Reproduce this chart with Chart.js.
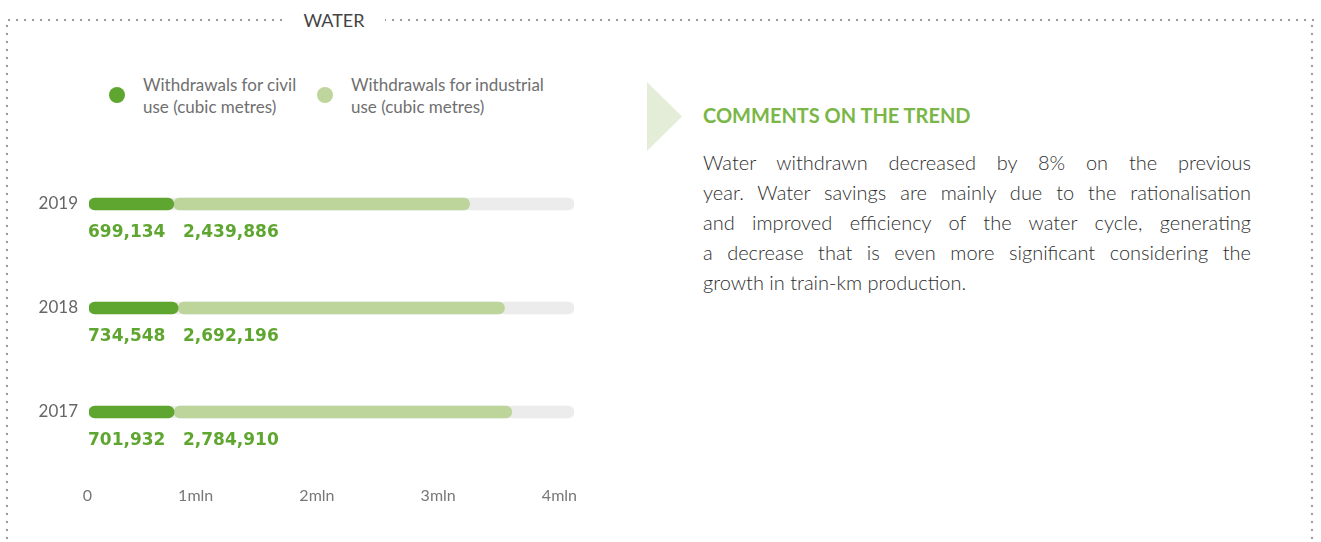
<!DOCTYPE html>
<html>
<head>
<meta charset="utf-8">
<script src="https://cdn.jsdelivr.net/npm/chart.js@4"></script>
<style>
  html, body { margin: 0; padding: 0; background: #fff; }
  body { width: 1321px; height: 542px; position: relative; overflow: hidden; font-family: Lato, "Open Sans", sans-serif; }
  .abs { position: absolute; }
  .dots-h { height: 4px; background: radial-gradient(circle at center, #9c9c9c 1px, transparent 1.6px) 0 0 / 8px 4px repeat-x; }
  .dots-v { width: 4px; background: radial-gradient(circle at center, #9c9c9c 1px, transparent 1.6px) 0 0 / 4px 8px repeat-y; }
  #title { left: 283px; top: 8px; width: 102px; text-align: center; background: #fff; font-size: 18px; color: #444; line-height: 24px; }
  .dot { width: 16px; height: 16px; border-radius: 50%; }
  .leg { font-size: 17px; color: #6f6f6f; line-height: 22px; white-space: nowrap; }
  #arrow { left: 647px; top: 82px; width: 35px; height: 69px; background: #e4edd8; clip-path: polygon(0 0, 100% 50%, 0 100%); }
  #heading { left: 703px; top: 103px; font-size: 20px; font-weight: 700; color: #7ab648; line-height: 24px; white-space: nowrap; }
  #body { left: 703px; top: 147px; width: 548px; font-size: 20px; font-weight: 300; color: #2e2e2e; line-height: 30px; }
  #body .j { text-align: justify; text-align-last: justify; white-space: nowrap; }
  #wrap { left: 0; top: 150px; width: 600px; height: 356px; }
</style>
</head>
<body>
<div class="abs dots-h" style="left:5px; top:18px; width:1310px;"></div>
<div class="abs dots-v" style="left:5px; top:22px; height:520px;"></div>
<div class="abs dots-v" style="left:1310px; top:22px; height:520px;"></div>
<div id="title" class="abs">WATER</div>

<div class="abs dot" style="left:109px; top:87px; background:#5fa630;"></div>
<div class="abs leg" style="left:143px; top:74px;">Withdrawals for civil<br>use (cubic metres)</div>
<div class="abs dot" style="left:317px; top:87px; background:#bed69d;"></div>
<div class="abs leg" style="left:351px; top:74px;">Withdrawals for industrial<br>use (cubic metres)</div>

<div id="arrow" class="abs"></div>
<div id="heading" class="abs">COMMENTS ON THE TREND</div>
<div id="body" class="abs">
  <div class="j">Water withdrawn decreased by 8% on the previous</div>
  <div class="j">year. Water savings are mainly due to the rationalisation</div>
  <div class="j">and improved efficiency of the water cycle, generating</div>
  <div class="j">a decrease that is even more significant considering the</div>
  <div>growth in train-km production.</div>
</div>

<div id="wrap" class="abs"><canvas id="ch_water"></canvas></div>

<script>
const years = ['2019', '2018', '2017'];
const civilUse = [699134, 734548, 701932];
const industrialUse = [2439886, 2692196, 2784910];
const trackValues = [4000000, 4000000, 4000000];
const tickLabels = ['0', '1mln', '2mln', '3mln', '4mln'];

const GREEN = '#5fa630';
const LIGHT = '#bdd59b';
const TRACK = '#ececec';

function fmt(v) { return v.toLocaleString('en-US'); }

// floating bars so every segment keeps its own rounded ends
const civilBars = civilUse.map(v => [0, v]);
const industrialBars = industrialUse.map((v, i) => [civilUse[i], civilUse[i] + v]);
const trackBars = trackValues.map(v => [0, v]);

// value labels under each bar, civil at bar start, industrial after it
const valueLabels = {
  id: 'valueLabels',
  afterDatasetsDraw(chart) {
    const { ctx, scales: { x, y } } = chart;
    const x0 = x.getPixelForValue(0);
    ctx.save();
    ctx.font = 'bold 17px "DejaVu Sans", sans-serif';
    ctx.fillStyle = GREEN;
    ctx.textBaseline = 'middle';
    ctx.textAlign = 'left';
    years.forEach((yr, i) => {
      const yy = y.getPixelForValue(i) + 29;
      ctx.fillText(fmt(civilUse[i]), x0 - 1, yy);
      ctx.fillText(fmt(industrialUse[i]), x0 + 94, yy);
    });
    ctx.restore();
  }
};

const bar = { barThickness: 12, borderRadius: 6, borderSkipped: false, grouped: false };

new Chart(document.getElementById('ch_water').getContext('2d'), {
  type: 'bar',
  data: {
    labels: years,
    datasets: [
      { label: 'Withdrawals for civil use (cubic metres)', data: civilBars, backgroundColor: GREEN, ...bar },
      { label: 'Withdrawals for industrial use (cubic metres)', data: industrialBars, backgroundColor: LIGHT, ...bar },
      { label: 'track', data: trackBars, backgroundColor: TRACK, ...bar }
    ]
  },
  options: {
    indexAxis: 'y',
    responsive: true,
    maintainAspectRatio: false,
    animation: false,
    layout: { padding: { top: 2, right: 26, left: 0, bottom: 0 } },
    plugins: { legend: { display: false }, tooltip: { enabled: false } },
    scales: {
      x: {
        min: 0, max: 4000000,
        grid: { display: false, drawTicks: false },
        border: { display: false },
        afterFit: a => { a.height = 42; },
        ticks: {
          stepSize: 1000000,
          align: 'end',
          labelOffset: 3,
          padding: 22,
          color: '#777',
          font: { family: 'Lato', size: 16 },
          callback: (v, i) => tickLabels[i]
        }
      },
      y: {
        grid: { display: false, drawTicks: false },
        border: { display: false },
        afterFit: a => { a.width = 89; a.paddingTop = 0; a.paddingBottom = 0; },
        ticks: { padding: 11, color: '#666', font: { family: 'Lato', size: 17 } }
      }
    }
  },
  plugins: [valueLabels]
});
</script>
</body>
</html>
